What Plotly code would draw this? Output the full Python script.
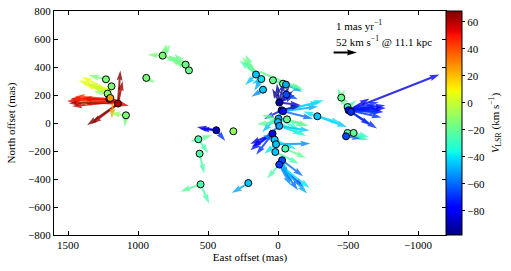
import numpy as np
import plotly.graph_objects as go

# ---- maser spots: East offset (mas), North offset (mas), V_LSR (km/s)
spot_x = [1229, 1189, 1217, 1205, 1198, 1143, 1086, 824, 660, 636, 941,
          441, 319, 569, 560, 553, 212,
          157, 119, 107, 36, -36, -57, -59, -9, -26, -36, -4, -64, 0, -9,
          39, 24, 14, -52, 19, -29, -9,
          -281, -452, -497, -504, -521, -497, -540, -486]
spot_y = [312, 262, 210, 172, 179, 139, 55, 481, 417, 376, 322,
          -52, -59, -116, -219, -438, -429,
          346, 314, 238, 305, 281, 274, 203, 146, 91, 84, 31, 26, 7, -21,
          -76, -119, -152, -183, -207, -266, -297,
          48, 181, 114, 91, 79, -71, -71, -95]
spot_v = [-15, -15, -12, 55, 25, 62, -15, -15, -18, -18, -15,
          -90, -10, -25, -25, -25, -45,
          -45, -40, -45, -20, -20, -50, -65, -92, -85, -75, -50, -20, -45, -50,
          -78, -45, -45, -25, -45, -65, -68,
          -45, -20, -30, -82, -70, -25, -20, -65]

# ---- proper motions: start (mas), mu_east, mu_north (mas/yr), V_LSR
arr_x = [1150, 1160, 1180, 1170, 1140, 1150, 1143, 1140, 1200, 1200, 1229, 1180, 1140,
         1086, 1086, 1170, 1190, 1200, 1217, 1160, 1150, 1165, 1200, 1195,
         824, 824, 810, 660, 636, 824, 941, 650, 640,
         441, 441, 441, 569, 569, 569, 560, 553, 553, 212,
         157, 150, 157, 126, 36, -9, -9, -26, -36, -36, -9, -26, 39, 39, 14, -4, 0, -9,
         -64, -9, -9, -29, -9, -29, 19, -52, 0, -36, 39, -4, 107, 119, -57, -36, -59,
         24, 14, -9,
         157, 157, 119, -9, -9, -9, -9, -26, -36, -4, 0, -9, 39, 24, -9, -9, -9, -29,
         -281, -281, -281, -504, -504, -504, -504, -504, -521, -504, -480, -497, -497,
         -486, -540, -452, -504,
         -504, -504, -504, -504, -452, -452, -497]
arr_y = [150, 165, 140, 170, 140, 130, 150, 150, 220, 200, 312, 160, 140,
         55, 55, 150, 230, 150, 210, 150, 160, 145, 230, 225,
         481, 481, 490, 417, 376, 481, 322, 410, 385,
         -52, -52, -52, -116, -116, -116, -219, -438, -438, -429,
         346, 360, 346, 364, 305, 146, 146, 91, 84, 84, 146, 91, -76, -76, -152, 31, 7, -21,
         26, -297, -297, -266, -297, -266, -207, -183, 30, 84, -76, 31, 238, 314, 274, 281, 203,
         -119, -152, -21,
         346, 346, 314, 146, 146, 146, 146, 91, 84, 31, 7, -21, -76, -119, -297, -297, -297, -266,
         48, 48, 48, 91, 91, 91, 91, 91, 79, 91, 120, 114, -71,
         -95, -71, 181, 91,
         91, 91, 91, 91, 181, 181, -71]
arr_mx = [2.14, 1.92, 1.32, 1.68, 1.34, 1.08, -0.10, -0.18, 1.34, 1.08, 0.74, 0.04, -0.45,
          0.06, 0.68, 1.80, 0.90, 1.40, 0.60, 2.00, 1.50, 1.90, 1.20, 1.00,
          0.64, -0.19, -0.24, 0.72, 0.62, -0.62, -0.39, 0.55, 0.80,
          0.83, 0.71, -0.39, 0.34, -0.59, -0.43, -0.20, -0.37, 0.86, 0.70,
          0.60, 0.54, 0.46, -1.85, -0.93, 0.10, -0.43, -1.65, -1.74, -1.28, -0.66, 0.75, 0.95,
          0.96, -1.47, -1.17, 0.90, -1.02,
          -0.93, -1.04, -1.19, -0.90, 0.53, -0.43, -1.01, -0.89, 0.68, 0.90, 0.90, 0.57, 0.50,
          0.40, -0.70, -0.80, -0.50,
          0.50, 0.50, 0.60,
          0.45, 0.70, 0.30, 0.30, -0.20, -0.60, -0.90, -0.80, -1.50, -0.90, -1.20, -1.30, 0.70,
          -0.90, -0.80, -1.30, -0.50, -0.20,
          -1.27, -1.01, 0.60, -3.89, -1.50, -1.57, -1.29, -1.41, -0.83, -1.22, 0.24, -0.38,
          -0.76, -0.68, -0.66, -0.30, -0.90,
          -1.40, -1.60, -1.20, -1.30, 0.15, -0.15, -0.90]
arr_my = [0.04, 0.06, 0.06, 0.12, -0.93, -0.81, 1.35, 0.90, 0.51, 0.48, 0.17, -0.77, -0.10,
          -0.50, 0.09, -0.18, 0.20, 0.00, 0.10, -0.05, 0.10, 0.15, 0.60, 0.35,
          0.04, 0.51, 0.42, 0.38, 0.44, -0.25, -0.22, 0.50, 0.45,
          0.14, 0.07, -0.46, -0.10, 0.17, -0.60, -0.86, -0.83, -0.31, -0.43,
          0.75, 0.48, -0.46, -0.78, -0.33, 0.81, 0.68, 0.35, 0.47, -0.32, 0.32, -0.37, -0.71,
          -0.44, 0.03, -0.31, -0.10, -0.35,
          -0.28, -0.96, -1.24, -0.68, -0.60, -0.92, -0.50, -0.40, 0.15, -0.90, -0.57, -0.28,
          -0.30, -0.20, -0.30, -0.20, -0.20,
          0.20, -0.40, -0.50,
          0.85, 0.60, -0.50, 0.60, 0.90, 0.50, -0.10, 0.20, 0.20, -0.50, -0.60, -0.20, -0.90,
          -0.40, -1.10, -1.00, -0.90, -0.70,
          -0.46, -0.29, 0.20, 1.53, -0.07, 0.21, 0.35, -0.31, -0.57, -0.78, 0.48, 0.28,
          -0.32, -0.09, -0.17, -0.20, 0.50,
          0.00, 0.10, 0.20, -0.10, 0.40, 0.35, -0.30]
arr_v = [55, 60, 50, 45, 68, 65, 67, 64, 5, 10, -15, 25, 55,
         -15, -10, 58, 0, -10, -12, 62, 52, 48, 8, 0,
         -15, -15, -18, -18, -16, -18, -15, -18, -17,
         -88, -80, -70, -20, -20, -25, -25, -25, -22, -50,
         -15, -20, -45, -20, -25, -95, -90, -45, -40, -60, -80, -75, -75,
         -85, -55, -25, -20, -40,
         -20, -70, -50, -60, -25, -45, -25, -20, -20, -45, -80, -25, -55,
         -45, -50, -20, -65,
         -45, -40, -60,
         -20, -25, -50, -95, -92, -85, -88, -90, -50, -30, -30, -45, -70,
         -40, -60, -40, -55, -50,
         -45, -40, -40, -82, -75, -75, -70, -70, -75, -70, -20, -25,
         -25, -60, -30, -20, -80,
         -72, -78, -74, -68, -22, -18, -28]

VMIN, VMAX = -98, 68

# matplotlib "jet" colormap
_jr = [(0, 0), (0.35, 0), (0.66, 1), (0.89, 1), (1, 0.5)]
_jg = [(0, 0), (0.125, 0), (0.375, 1), (0.64, 1), (0.91, 0), (1, 0)]
_jb = [(0, 0.5), (0.11, 1), (0.34, 1), (0.65, 0), (1, 0)]


def jet(t):
    t = min(max(t, 0.0), 1.0)
    ch = []
    for seg in (_jr, _jg, _jb):
        ch.append(int(round(255 * np.interp(t, [s[0] for s in seg], [s[1] for s in seg]))))
    return "rgb(%d,%d,%d)" % tuple(ch)


stops = [0, 0.11, 0.125, 0.34, 0.35, 0.375, 0.5, 0.64, 0.65, 0.66, 0.89, 0.91, 1]
jet_scale = [[s, jet(s)] for s in stops]

PX = 1 / 0.14          # mas per screen pixel
SCALE = 167.0          # mas of offset per 1 mas/yr
W = 2.0 * PX           # shaft width


def arrow_poly(x0, y0, mx, my, scale=SCALE):
    dx, dy = mx * scale, my * scale
    L = float(np.hypot(dx, dy))
    ux, uy = dx / L, dy / L
    nx, ny = -uy, ux
    hl, hal, hw, sw = 5 * W, 4.5 * W, 1.5 * W, 0.5 * W
    if L < hl * 1.2:
        s = L / (hl * 1.2)
        hl, hal, hw, sw = hl * s, hal * s, hw * s, sw * s
    pts = [(0, -sw), (L - hal, -sw), (L - hl, -hw), (L, 0),
           (L - hl, hw), (L - hal, sw), (0, sw), (0, -sw)]
    xs = [x0 + a * ux + b * nx for a, b in pts]
    ys = [y0 + a * uy + b * ny for a, b in pts]
    return xs, ys


fig = go.Figure()

for x0, y0, mx, my, v in zip(arr_x, arr_y, arr_mx, arr_my, arr_v):
    xs, ys = arrow_poly(x0, y0, mx, my)
    c = jet((v - VMIN) / (VMAX - VMIN))
    fig.add_trace(go.Scatter(x=xs, y=ys, mode="lines", fill="toself",
                             fillcolor=c, line=dict(width=0, color=c),
                             opacity=0.8, hoverinfo="skip", showlegend=False))

# reference arrow (1 mas/yr toward west)
key_x, key_y = -397, 503
xs, ys = arrow_poly(key_x, key_y, -1.0, 0.0)
fig.add_trace(go.Scatter(x=xs, y=ys, mode="lines", fill="toself", fillcolor="black",
                         line=dict(width=0, color="black"), hoverinfo="skip",
                         showlegend=False))

fig.add_trace(go.Scatter(
    x=spot_x, y=spot_y, mode="markers", showlegend=False,
    marker=dict(size=7, color=spot_v, colorscale=jet_scale, cmin=VMIN, cmax=VMAX,
                line=dict(color="black", width=1),
                colorbar=dict(
                    x=1.0, xanchor="left", xpad=0, y=0.5, yanchor="middle", ypad=0,
                    len=1, lenmode="fraction", thickness=16, outlinewidth=1,
                    outlinecolor="black", tickvals=[-80, -60, -40, -20, 0, 20, 40, 60],
                    ticks="outside", ticklen=3, tickcolor="black",
                    tickfont=dict(size=11, color="black"),
                    title=dict(text="<i>V</i><sub>LSR</sub> (km s<sup>−1</sup>)",
                               side="right", font=dict(size=11, color="black"))))))

fig.add_annotation(x=key_x, y=698, xref="x", yref="y", xanchor="left", yanchor="middle",
                   text="1 mas yr<sup>−1</sup>", showarrow=False,
                   font=dict(size=11, color="black"))
fig.add_annotation(x=key_x, y=584, xref="x", yref="y", xanchor="left", yanchor="middle",
                   text="52 km s<sup>−1</sup> @ 11.1 kpc", showarrow=False,
                   font=dict(size=11, color="black"))

axis_common = dict(showline=True, linecolor="black", linewidth=1, mirror="ticks",
                   ticks="inside", ticklen=4, tickcolor="black", showgrid=False,
                   zeroline=False, tickfont=dict(size=11, color="black"),
                   automargin=False)
fig.update_xaxes(range=[1600, -1200], tickvals=[1500, 1000, 500, 0, -500, -1000],
                 title=dict(text="East offset (mas)", font=dict(size=11, color="black"),
                            standoff=0), **axis_common)
fig.update_yaxes(range=[-800, 800], tickvals=list(range(-800, 801, 200)),
                 title=dict(text="North offset (mas)", font=dict(size=11, color="black"),
                            standoff=10), **axis_common)

fig.update_layout(width=511, height=271,
                  margin=dict(l=54, r=65, t=11, b=36, autoexpand=False),
                  paper_bgcolor="white", plot_bgcolor="white",
                  font=dict(family="Liberation Serif", size=11, color="black"))

# remove the default 8 px page margin so the figure sits at the window's corner
fig.write_html("out.html", config={"displayModeBar": False},
               post_script="document.body.style.margin='0';")
